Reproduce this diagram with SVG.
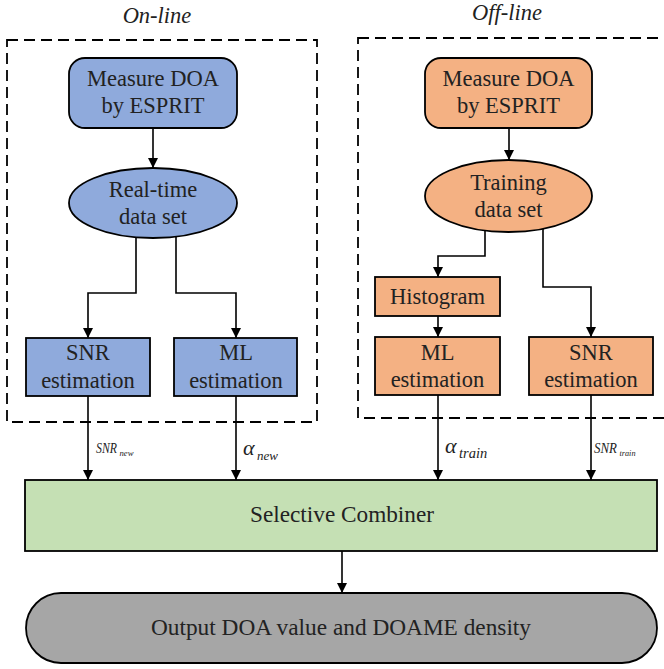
<svg xmlns="http://www.w3.org/2000/svg" width="664" height="669" viewBox="0 0 664 669">
<style>
.t{font-size:22.5px;fill:#222;text-anchor:middle}
.ti{font-style:italic;fill:#222}
.blue{fill:#8FAADC;stroke:#000;stroke-width:1.8}
.orange{fill:#F4B183;stroke:#000;stroke-width:1.8}
.dash{fill:none;stroke:#000;stroke-width:1.8;stroke-dasharray:11 6}
.c{fill:none;stroke:#000;stroke-width:1.6;marker-end:url(#ah)}
</style>
<defs>
<marker id="ah" markerUnits="userSpaceOnUse" markerWidth="10" markerHeight="10" viewBox="0 0 10 10" refX="10" refY="5" orient="auto">
<path d="M0,0 L10,5 L0,10 z" fill="#000"/>
</marker>
</defs>
<rect width="664" height="669" fill="#fff"/>
<g font-family="'Liberation Serif', 'Times New Roman', 'DejaVu Serif', serif">
<g id="online-group">
<rect class="dash" x="7" y="40" width="310" height="382"/>
<text class="ti" x="157" y="23" font-size="22.5" text-anchor="middle">On-line</text>
</g>
<g id="offline-group">
<rect class="dash" x="358" y="38" width="320" height="380"/>
<text class="ti" x="507" y="20" font-size="22.5" text-anchor="middle">Off-line</text>
</g>

<g id="connectors">
<path class="c" d="M153,128 V168"/>
<path class="c" d="M136,237 V293 H88 V338"/>
<path class="c" d="M176,236.7 V293 H236 V338"/>
<path class="c" d="M88,396 V480"/>
<path class="c" d="M236,396 V480"/>
<path class="c" d="M509,128 V160"/>
<path class="c" d="M485,230.5 V256 H438 V277"/>
<path class="c" d="M438,316 V337"/>
<path class="c" d="M543,228.8 V287 H591 V337"/>
<path class="c" d="M438,395 V480"/>
<path class="c" d="M591,395 V480"/>
<path class="c" d="M342,551 V593"/>
<text class="ti" x="96" y="453" font-size="15" textLength="21" lengthAdjust="spacingAndGlyphs">SNR</text>
<text class="ti" x="119.5" y="456" font-size="9" textLength="14" lengthAdjust="spacingAndGlyphs">new</text>
<text class="ti" x="243" y="455" font-size="22">α</text>
<text class="ti" x="257" y="460" font-size="13">new</text>
<text class="ti" x="445" y="453" font-size="22">α</text>
<text class="ti" x="459" y="458" font-size="14.5">train</text>
<text class="ti" x="594" y="453" font-size="15" textLength="23" lengthAdjust="spacingAndGlyphs">SNR</text>
<text class="ti" x="619.5" y="456" font-size="9" textLength="16" lengthAdjust="spacingAndGlyphs">train</text>
</g>

<g id="on-measure">
<rect class="blue" x="69" y="58" width="168" height="70" rx="16"/>
<text class="t" x="153" y="86">Measure DOA</text>
<text class="t" x="153" y="113">by ESPRIT</text>
</g>
<g id="on-dataset">
<ellipse class="blue" cx="153" cy="203" rx="84" ry="35"/>
<text class="t" x="153" y="197">Real-time</text>
<text class="t" x="153" y="224">data set</text>
</g>
<g id="on-snr">
<rect class="blue" x="26" y="338" width="124" height="58"/>
<text class="t" x="88" y="360">SNR</text>
<text class="t" x="88" y="388">estimation</text>
</g>
<g id="on-ml">
<rect class="blue" x="174" y="338" width="123" height="58"/>
<text class="t" x="236" y="360">ML</text>
<text class="t" x="236" y="388">estimation</text>
</g>

<g id="off-measure">
<rect class="orange" x="425" y="58" width="167" height="70" rx="16"/>
<text class="t" x="508.5" y="86">Measure DOA</text>
<text class="t" x="508.5" y="113">by ESPRIT</text>
</g>
<g id="off-dataset">
<ellipse class="orange" cx="508.5" cy="196" rx="83.5" ry="36"/>
<text class="t" x="508.5" y="190">Training</text>
<text class="t" x="508.5" y="217">data set</text>
</g>
<g id="off-histogram">
<rect class="orange" x="375" y="277" width="125" height="39"/>
<text class="t" x="437.5" y="304">Histogram</text>
</g>
<g id="off-ml">
<rect class="orange" x="375" y="337" width="125" height="58"/>
<text class="t" x="437.5" y="360">ML</text>
<text class="t" x="437.5" y="387">estimation</text>
</g>
<g id="off-snr">
<rect class="orange" x="529" y="337" width="124" height="58"/>
<text class="t" x="591" y="360">SNR</text>
<text class="t" x="591" y="387">estimation</text>
</g>

<g id="combiner">
<rect x="25" y="480" width="632" height="71" fill="#C5E0B4" stroke="#000" stroke-width="1.8"/>
<text class="t" x="342" y="522" textLength="184" lengthAdjust="spacingAndGlyphs">Selective Combiner</text>
</g>
<g id="output">
<rect x="26" y="593" width="631" height="70" rx="35" fill="#A6A6A6" stroke="#000" stroke-width="1.8"/>
<text class="t" x="341" y="635" textLength="380" lengthAdjust="spacingAndGlyphs">Output DOA value and DOAME density</text>
</g>
</g>
</svg>
